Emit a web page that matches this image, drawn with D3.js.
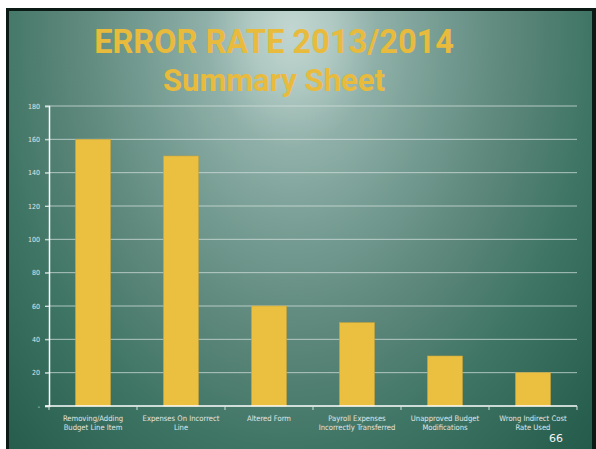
<!DOCTYPE html>
<html>
<head>
<meta charset="utf-8">
<script src="https://cdnjs.cloudflare.com/ajax/libs/d3/7.8.5/d3.min.js"></script>
<style>
  html, body { margin: 0; padding: 0; background: #fff; }
  svg { display: block; }
</style>
</head>
<body>
<svg id="chart" width="596" height="449"></svg>
<script>
// Error counts by category, fiscal year 2013/2014
const categories = [
  ["Removing/Adding", "Budget Line Item"],
  ["Expenses On Incorrect", "Line"],
  ["Altered Form"],
  ["Payroll Expenses", "Incorrectly Transferred"],
  ["Unapproved Budget", "Modifications"],
  ["Wrong Indirect Cost", "Rate Used"]
];
const errorCounts = [160, 150, 60, 50, 30, 20];
const yTicks = [0, 20, 40, 60, 80, 100, 120, 140, 160, 180];
const yTickLabels = ["-", "20", "40", "60", "80", "100", "120", "140", "160", "180"];
const titleLines = ["ERROR RATE 2013/2014", "Summary Sheet"];
const pageNumber = "66";

const svg = d3.select("#chart");

// Slide frame and background (elliptical glow from the top centre)
const defs = svg.append("defs");
const bg = defs.append("radialGradient")
  .attr("id", "slideBg")
  .attr("gradientUnits", "userSpaceOnUse")
  .attr("cx", 0).attr("cy", 0).attr("r", 1)
  .attr("gradientTransform", "translate(292,30) scale(500,700)");
[[0, "#c2d6d1"], [0.08, "#b0c9c3"], [0.17, "#8fb0a8"], [0.31, "#739a90"], [0.44, "#5d877b"],
 [0.6, "#3f7565"], [0.8, "#285f4f"], [1, "#1b4d3f"]]
  .forEach(([o, c]) => bg.append("stop").attr("offset", o).attr("stop-color", c));

svg.append("rect").attr("x", 6).attr("y", 8).attr("width", 590).attr("height", 441).attr("fill", "#0c1a15");
svg.append("rect").attr("x", 9).attr("y", 11).attr("width", 583).attr("height", 438).attr("fill", "url(#slideBg)");

// Title
const title = svg.append("g").attr("font-family", "Roboto, 'Noto Sans', sans-serif")
  .attr("font-weight", "bold").attr("fill", "#e9bb3d").attr("text-anchor", "middle");
title.append("text").attr("x", 274).attr("y", 53).attr("font-size", 32.5).text(titleLines[0]);
title.append("text").attr("x", 274).attr("y", 91).attr("font-size", 31).text(titleLines[1]);

// Plot
const margin = { left: 49, right: 577, top: 106, bottom: 406 };
const xBand = d3.scaleBand().domain(d3.range(categories.length))
  .range([margin.left, margin.right]);
const y = d3.scaleLinear().domain([0, 180]).range([margin.bottom, margin.top]);

// Gridlines
svg.append("g").selectAll("line").data(yTicks.filter(d => d > 0)).join("line")
  .attr("x1", margin.left - 4).attr("x2", margin.right)
  .attr("y1", d => y(d)).attr("y2", d => y(d))
  .attr("stroke", "#d4e0dc").attr("stroke-opacity", 0.75).attr("stroke-width", 1);

// Bars
svg.append("g").selectAll("rect").data(errorCounts).join("rect")
  .attr("x", (d, i) => xBand(i) + xBand.bandwidth() / 2 - 17.5)
  .attr("width", 35)
  .attr("y", d => y(d))
  .attr("height", d => y(0) - y(d))
  .attr("fill", "#ebbf40")
  .attr("stroke", "#c9a43a").attr("stroke-width", 0.6);

// Y axis
const yAxis = d3.axisLeft(y).tickValues(yTicks)
  .tickFormat((d, i) => yTickLabels[i]).tickSize(4).tickPadding(5);
const yG = svg.append("g").attr("transform", `translate(${margin.left},0)`).call(yAxis);
yG.select(".domain").attr("stroke", "#ffffff").attr("stroke-width", 1.5);
yG.selectAll(".tick line").attr("stroke", "#d4e0dc");
yG.selectAll(".tick text").attr("fill", "#e2e6e4")
  .attr("font-family", "'DejaVu Sans Condensed', 'DejaVu Sans', sans-serif").attr("font-size", 7);

// X axis baseline with band boundary ticks
svg.append("line").attr("x1", margin.left - 4).attr("x2", margin.right)
  .attr("y1", y(0)).attr("y2", y(0)).attr("stroke", "#ffffff").attr("stroke-width", 1.5);
svg.append("g").selectAll("line").data(d3.range(categories.length + 1)).join("line")
  .attr("x1", i => margin.left + i * xBand.step()).attr("x2", i => margin.left + i * xBand.step())
  .attr("y1", y(0)).attr("y2", y(0) + 4)
  .attr("stroke", "#d4e0dc").attr("stroke-width", 1);

// Category labels
const lab = svg.append("g").attr("font-family", "'DejaVu Sans Condensed', 'DejaVu Sans', sans-serif")
  .attr("font-size", 7.6).attr("fill", "#e2e6e4").attr("text-anchor", "middle");
categories.forEach((lines, i) => {
  const cx = xBand(i) + xBand.bandwidth() / 2;
  const t = lab.append("text").attr("x", cx).attr("y", 421);
  lines.forEach((ln, j) => t.append("tspan")
    .attr("x", cx).attr("dy", j === 0 ? 0 : 8.5).text(ln));
});

// Page number
svg.append("text").attr("x", 556).attr("y", 442).attr("text-anchor", "middle")
  .attr("font-family", "'DejaVu Sans', sans-serif").attr("font-size", 11).attr("fill", "#f2f5f4")
  .text(pageNumber);
</script>
</body>
</html>
